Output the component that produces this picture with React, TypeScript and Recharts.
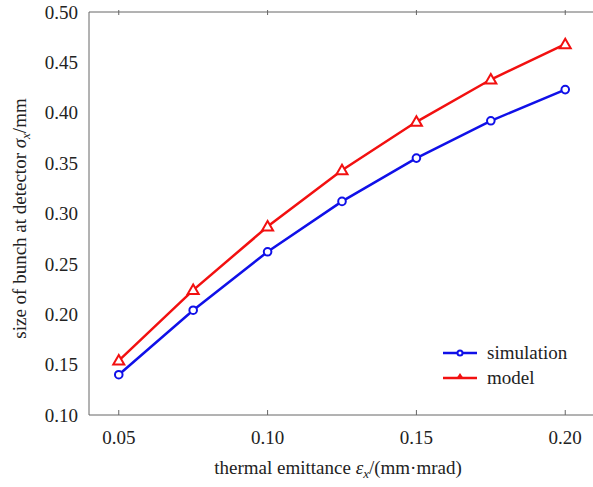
import { LineChart, Line, XAxis, YAxis, Legend } from "recharts";

const emittance = [0.05, 0.075, 0.1, 0.125, 0.15, 0.175, 0.2];
const simulation = [0.14, 0.204, 0.262, 0.312, 0.355, 0.392, 0.423];
const model = [0.154, 0.224, 0.287, 0.343, 0.391, 0.433, 0.468];
const seriesOrder = ["simulation", "model"];
const xTicks = [0.05, 0.1, 0.15, 0.2];
const yTicks = [0.1, 0.15, 0.2, 0.25, 0.3, 0.35, 0.4, 0.45, 0.5];

const data = emittance.map((e, i) => ({
	e,
	simulation: simulation[i],
	model: model[i],
}));

const FONT = "Liberation Serif, Times New Roman, serif";
const AXIS = "#666";
const TEXT = "#222";
const BLUE = "#1010e8";
const RED = "#f21010";
const txt = { fontFamily: FONT, fontSize: 19 };

const BottomTick = ({ x, y, payload }: any) => (
	<g>
		<line x1={x} y1={y} x2={x} y2={y - 5} stroke={AXIS} />
		<text x={x} y={y + 29} textAnchor="middle" style={txt} fill={TEXT}>
			{payload.value.toFixed(2)}
		</text>
	</g>
);

const TopTick = ({ x, y }: any) => <line x1={x} y1={y} x2={x} y2={y + 5} stroke={AXIS} />;

const LeftTick = ({ x, y, payload }: any) => (
	<text x={x - 11} y={y} dy="0.35em" textAnchor="end" style={txt} fill={TEXT}>
		{payload.value.toFixed(2)}
	</text>
);

const RightTick = ({ x, y }: any) => <line x1={x} y1={y} x2={x - 5} y2={y} stroke={AXIS} />;

const Circle = ({ cx, cy }: any) => (
	<circle cx={cx} cy={cy} r={3.8} fill="white" stroke={BLUE} strokeWidth={2} />
);

const Triangle = ({ cx, cy }: any) => (
	<polygon
		points={`${cx},${cy - 5.5} ${cx - 5.5},${cy + 4} ${cx + 5.5},${cy + 4}`}
		fill="white"
		stroke={RED}
		strokeWidth={2}
	/>
);

const LegendBox = ({ payload }: any) => {
	const items = seriesOrder.map((n) => payload.find((p: any) => p.value === n)).filter(Boolean);
	return (
		<svg width={150} height={60} style={{ display: "block" }}>
			{items.map((p: any, i: number) => {
				const y = 12 + i * 25;
				return (
					<g key={p.value}>
						<line x1={2} y1={y} x2={36} y2={y} stroke={p.color} strokeWidth={2.5} />
						{p.value === "simulation" ? (
							<circle cx={19} cy={y} r={2.5} fill="white" stroke={p.color} strokeWidth={2} />
						) : (
							<polygon points={`19,${y - 5} 15,${y + 1} 23,${y + 1}`} fill={p.color} />
						)}
						<text x={46} y={y} dy="0.32em" style={txt} fill={TEXT}>
							{p.value}
						</text>
					</g>
				);
			})}
		</svg>
	);
};

export default function App() {
	return (
		<div style={{ position: "fixed", left: 0, top: 0, width: 593, height: 487, overflow: "hidden", background: "white" }}>
			<LineChart width={620} height={487} data={data} margin={{ top: 11, right: 24, bottom: 0, left: 29 }}>
				<XAxis
					dataKey="e"
					type="number"
					domain={[0.04, 0.21]}
					ticks={xTicks}
					stroke={AXIS}
					tickSize={0}
					tickMargin={0}
					tickLine={false}
					tick={<BottomTick />}
					height={72}
					label={({ viewBox }: any) => (
						<text
							x={viewBox.x + viewBox.width / 2 - 4}
							y={viewBox.y + 59}
							textAnchor="middle"
							style={txt}
							fill={TEXT}
						>
							thermal emittance{" "}
							<tspan fontStyle="italic">ε</tspan>
							<tspan fontStyle="italic" fontSize={13} dy={4}>x</tspan>
							<tspan dy={-4}>/(mm·mrad)</tspan>
						</text>
					)}
				/>
				<XAxis
					xAxisId="top"
					orientation="top"
					dataKey="e"
					type="number"
					domain={[0.04, 0.21]}
					ticks={xTicks}
					stroke={AXIS}
					tickSize={0}
					tickLine={false}
					tick={<TopTick />}
					height={1}
				/>
				<YAxis
					type="number"
					domain={[0.1, 0.5]}
					ticks={yTicks}
					stroke={AXIS}
					tickSize={0}
					tickMargin={0}
					tickLine={false}
					tick={<LeftTick />}
					width={60}
					label={({ viewBox }: any) => {
						const cx = 26;
						const cy = viewBox.y + viewBox.height / 2 + 5;
						return (
							<text
								x={cx}
								y={cy}
								transform={`rotate(-90 ${cx} ${cy})`}
								textAnchor="middle"
								style={txt}
								fill={TEXT}
							>
								size of bunch at detector{" "}
								<tspan fontStyle="italic">σ</tspan>
								<tspan fontStyle="italic" fontSize={13} dy={4}>x</tspan>
								<tspan dy={-4}>/mm</tspan>
							</text>
						);
					}}
				/>
				<YAxis
					yAxisId="right"
					orientation="right"
					type="number"
					domain={[0.1, 0.5]}
					ticks={yTicks}
					stroke={AXIS}
					tickSize={0}
					tickLine={false}
					tick={<RightTick />}
					width={1}
				/>
				<Legend
					layout="vertical"
					align="center"
					verticalAlign="middle"
					content={<LegendBox />}
					wrapperStyle={{ left: 441, top: 341, width: 150, height: 60 }}
				/>
				<Line
					dataKey="simulation"
					name="simulation"
					stroke={BLUE}
					strokeWidth={2.5}
					dot={<Circle />}
					activeDot={false}
					isAnimationActive={false}
				/>
				<Line
					dataKey="model"
					name="model"
					stroke={RED}
					strokeWidth={2.5}
					dot={<Triangle />}
					activeDot={false}
					isAnimationActive={false}
				/>
			</LineChart>
		</div>
	);
}
